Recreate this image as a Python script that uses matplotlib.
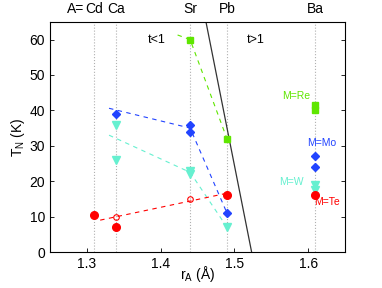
import matplotlib
matplotlib.use("Agg")
import matplotlib.pyplot as plt

plt.rcParams['font.family'] = ['Liberation Sans', 'DejaVu Sans']

# A-site cation radii (top axis)
site_names = ['Cd', 'Ca', 'Sr', 'Pb', 'Ba']
site_r = [1.31, 1.34, 1.44, 1.49, 1.61]

# M = Te (filled) and open points
te_r = [1.31, 1.34, 1.49, 1.61]
te_T = [10.5, 7, 16, 16]
te_open_r = [1.34, 1.44]
te_open_T = [10, 15]
te_fit_r = [1.318, 1.49]
te_fit_T = [9, 16.6]

# M = Mo
mo_r = [1.34, 1.44, 1.44, 1.49, 1.61, 1.61]
mo_T = [39, 36, 34, 11, 27, 24]
mo_line_r = [1.33, 1.44, 1.49]
mo_line_T = [40.6, 35, 11]

# M = W
w_r = [1.34, 1.34, 1.44, 1.44, 1.49, 1.61, 1.61]
w_T = [36, 26, 23, 22, 7, 19, 17.5]
w_line_r = [1.33, 1.44, 1.49]
w_line_T = [33, 22.5, 7]

# M = Re
re_r = [1.44, 1.49, 1.61, 1.61]
re_T = [60, 32, 41.4, 40]
re_line_r = [1.423, 1.44, 1.49]
re_line_T = [61.3, 60, 32]

# t = 1 boundary
t1_r = [1.4615, 1.5234]
t1_T = [65, 0]

c_red = '#ff0000'
c_blue = '#2244ff'
c_cyan = '#66f0d0'
c_green = '#5fe600'

fig = plt.figure(figsize=(3.82, 2.88), dpi=100)
ax = fig.add_axes([0.131, 0.125, 0.772, 0.799])

for r in site_r:
    ax.axvline(r, color='#b0b0b0', ls=':', lw=0.8, zorder=0)

ax.plot(t1_r, t1_T, color='#333333', lw=0.9)

ax.plot(re_line_r, re_line_T, color=c_green, ls='--', lw=0.8, dashes=(4, 4))
ax.plot(mo_line_r, mo_line_T, color=c_blue, ls='--', lw=0.8, dashes=(4, 4))
ax.plot(w_line_r, w_line_T, color=c_cyan, ls='--', lw=0.8, dashes=(4, 4))
ax.plot(te_fit_r, te_fit_T, color=c_red, ls='--', lw=0.8, dashes=(4, 4))

ax.plot(re_r, re_T, 's', color=c_green, ms=4.5, mec=c_green)
ax.plot(mo_r, mo_T, 'D', color=c_blue, ms=4.5, mec=c_blue)
ax.plot(w_r, w_T, 'v', color=c_cyan, ms=5.5, mec=c_cyan)
ax.plot(te_r, te_T, 'o', color=c_red, ms=5.5, mec=c_red)
ax.plot(te_open_r, te_open_T, 'o', mfc='none', mec=c_red, ms=4, mew=0.8)

ax.text(1.395, 60, 't<1', fontsize=9, ha='center', va='center')
ax.text(1.529, 60, 't>1', fontsize=9, ha='center', va='center')
ax.text(1.584, 44, 'M=Re', color=c_green, fontsize=7.5, ha='center', va='center')
ax.text(1.618, 30.7, 'M=Mo', color=c_blue, fontsize=7.5, ha='center', va='center')
ax.text(1.577, 19.9, 'M=W', color=c_cyan, fontsize=7.5, ha='center', va='center')
ax.text(1.625, 14, 'M=Te', color=c_red, fontsize=7.5, ha='center', va='center')

ax.set_xlim(1.25, 1.65)
ax.set_ylim(0, 65)
ax.set_xticks([1.3, 1.4, 1.5, 1.6])
ax.set_yticks(range(0, 70, 10))
ax.tick_params(direction='in', top=True, right=True, length=3, labelsize=10, width=0.6)
ax.set_xlabel(r'r$_\mathregular{A}$ (Å)', fontsize=10, labelpad=-5)
ax.set_ylabel(r'T$_\mathregular{N}$ (K)', fontsize=10, labelpad=2)
for s in ax.spines.values():
    s.set_linewidth(0.6)

top = ax.twiny()
top.set_xlim(ax.get_xlim())
top.set_xticks(site_r)
top.set_xticklabels(site_names)
top.tick_params(length=0, labelsize=10, pad=4)
ax.annotate('A=', xy=(1.285, 1), xycoords=('data', 'axes fraction'),
            xytext=(0, 4), textcoords='offset points',
            fontsize=10, ha='center', va='bottom')

fig.savefig('out.png', dpi=100)
